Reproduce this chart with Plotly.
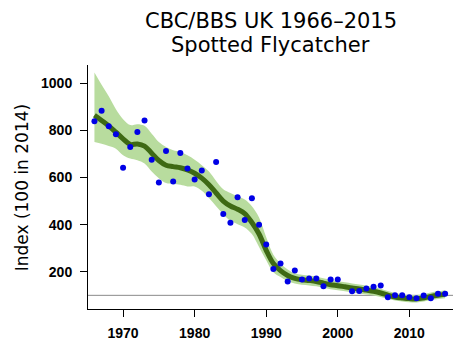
import plotly.graph_objects as go

years = list(range(1966, 2016))

index_values = [838, 883, 817, 783, 641, 729, 793, 842, 675, 579,
                712, 583, 704, 638, 591, 629, 529, 666, 445, 408,
                516, 420, 512, 399, 316, 212, 235, 159, 205, 167,
                171, 171, 138, 167, 167, None, 117, 118, 129, 136,
                142, 92, 100, 100, 92, 88, 99, 88, 107, 107]

smoothed = [864, 842, 819, 792, 764, 740, 742, 733, 703, 672,
            652, 646, 641, 632, 618, 597, 569, 534, 500, 479,
            465, 447, 409, 360, 291, 235, 205, 184, 172, 166,
            163, 159, 152, 145, 141, 136, 131, 127, 122, 117,
            110, 101, 93, 89, 86, 85, 89, 95, 100, 104]

upper = [1045, 993, 944, 889, 847, 822, 826, 819, 785, 750,
         729, 715, 708, 694, 675, 652, 625, 585, 550, 534,
         520, 506, 478, 430, 346, 272, 235, 210, 194, 187,
         184, 180, 172, 165, 160, 155, 150, 146, 141, 135,
         128, 118, 110, 105, 102, 101, 105, 112, 117, 122]

lower = [750, 743, 733, 722, 694, 680, 673, 659, 625, 597,
         576, 572, 569, 562, 562, 544, 513, 478, 444, 416,
         402, 388, 360, 305, 249, 198, 178, 160, 150, 145,
         142, 138, 132, 126, 122, 117, 112, 108, 104, 99,
         93, 85, 78, 74, 71, 70, 74, 79, 84, 88]

x_ticks = [1970, 1980, 1990, 2000, 2010]
y_ticks = [200, 400, 600, 800, 1000]

fig = go.Figure()
fig.add_trace(go.Scatter(x=years, y=lower, mode="lines", line=dict(width=0, shape="spline"),
                         hoverinfo="skip", showlegend=False))
fig.add_trace(go.Scatter(x=years, y=upper, mode="lines", line=dict(width=0, shape="spline"),
                         fill="tonexty", fillcolor="#b8dc9e", hoverinfo="skip", showlegend=False))
fig.add_trace(go.Scatter(x=years, y=smoothed, mode="lines",
                         line=dict(color="#3e6a14", width=5, shape="spline"), showlegend=False))
fig.add_trace(go.Scatter(x=years, y=index_values, mode="markers",
                         marker=dict(color="#0000e6", size=6), showlegend=False))

fig.add_shape(type="line", xref="paper", x0=0, x1=1, yref="y", y0=100, y1=100,
              line=dict(color="#8a8a8a", width=1), layer="below")

tickfont = dict(family="Liberation Sans", size=14, color="black", weight="bold")
fig.update_xaxes(range=[1965.1, 2016.1], tickvals=x_ticks, showline=True, linecolor="black",
                 linewidth=1, ticks="outside", ticklen=7, tickcolor="black", showgrid=False,
                 zeroline=False, tickfont=tickfont, ticklabelstandoff=4)
fig.update_yaxes(range=[42, 1077], tickvals=y_ticks, showline=True, linecolor="black",
                 linewidth=1, ticks="outside", ticklen=7, tickcolor="black", showgrid=False,
                 zeroline=False, tickfont=tickfont, ticklabelstandoff=5)

fig.add_annotation(text="Index (100 in 2014)", xref="paper", yref="paper", x=-0.18, y=0.5,
                   xanchor="center", yanchor="middle", textangle=-90, showarrow=False,
                   font=dict(family="DejaVu Sans", size=17, color="black"))
fig.add_annotation(text="CBC/BBS UK 1966–2015", xref="paper", yref="paper", x=0.5, y=1,
                   yshift=44, xanchor="center", yanchor="middle", showarrow=False,
                   font=dict(family="DejaVu Sans", size=21, color="black"))
fig.add_annotation(text="Spotted Flycatcher", xref="paper", yref="paper", x=0.5, y=1,
                   yshift=20, xanchor="center", yanchor="middle", showarrow=False,
                   font=dict(family="DejaVu Sans", size=21, color="black"))

fig.update_layout(width=470, height=353, margin=dict(l=88, r=17, t=65, b=40),
                  plot_bgcolor="white", paper_bgcolor="white")

fig.write_html("out.html")
